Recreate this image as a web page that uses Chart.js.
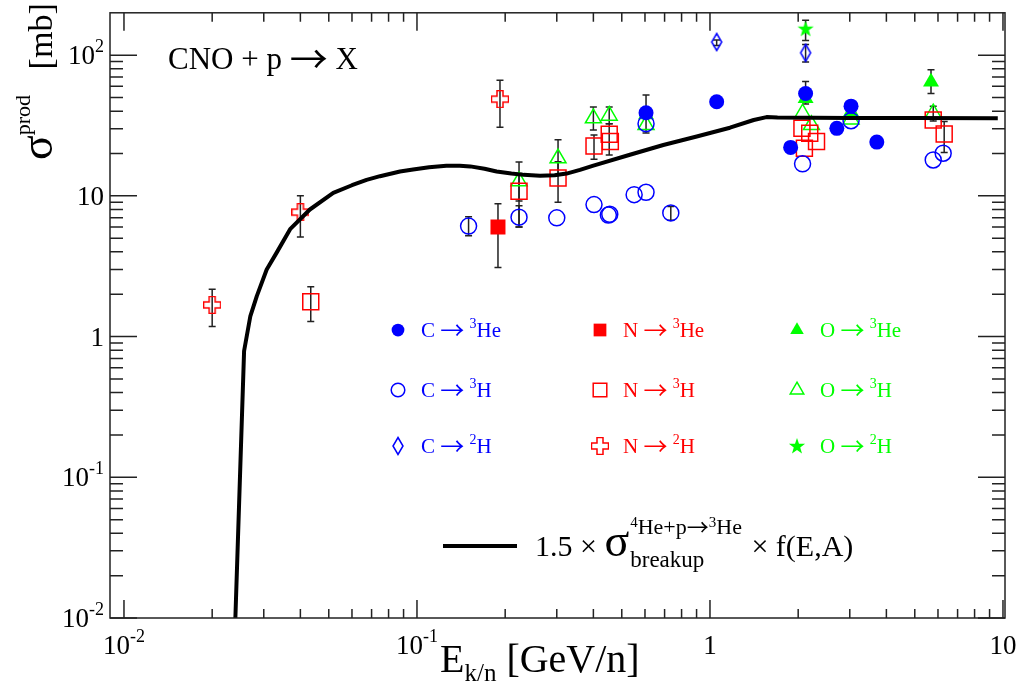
<!DOCTYPE html>
<html><head><meta charset="utf-8">
<script src="https://cdn.jsdelivr.net/npm/chart.js@4/dist/chart.umd.min.js"></script>
<style>html,body{margin:0;padding:0;background:#fff;overflow:hidden}canvas{display:block}</style>
</head><body>
<canvas id="c" width="1024" height="686"></canvas>
<script>
// ---------- data ----------
const curveE = [0.0240,0.0257,0.0270,0.0284,0.0307,0.0332,0.0369,0.0431,0.0518,0.0600,0.0673,0.0748,0.0875,0.097,0.110,0.126,0.140,0.152,0.170,0.187,0.210,0.231,0.263,0.295,0.324,0.36,0.40,0.533,0.693,0.901,1.17,1.41,1.56,1.70,3.0,5.0,9.6];
const curveSigma = [0.01,0.79,1.4,1.94,3.0,3.95,5.8,8.0,10.5,11.9,13.0,13.8,14.9,15.4,16.0,16.4,16.4,16.2,15.6,14.9,14.4,14.1,13.9,14.0,14.4,15.3,16.4,19.6,23.0,26.4,30.5,34.6,36.3,36.0,35.8,35.7,35.6];

const C3He_E  = [0.605,1.054,1.885,2.12,2.71,3.03,3.71];
const C3He_S  = [39.0,46.7,22.1,53.4,30.2,43.4,24.1];
const C3He_lo = [28,null,null,45,null,null,null];
const C3He_hi = [52,null,null,65,null,null,null];

const C3H_E  = [0.150,0.223,0.300,0.402,0.450,0.455,0.551,0.605,0.605,0.735,2.07,3.03,5.78,6.25];
const C3H_S  = [6.1,7.06,6.98,8.67,7.3,7.4,10.2,10.6,32.6,7.57,16.9,34.2,18.0,20.1];
const C3H_lo = [5.2,6.0,null,null,null,null,null,null,null,6.7,null,null,null,null];
const C3H_hi = [7.1,8.5,null,null,null,null,null,null,null,8.4,null,null,null,null];

const C2H_E  = [1.054,2.12];
const C2H_S  = [124,104];
const C2H_lo = [117,89.5];
const C2H_hi = [128,119];

const N3He_E  = [0.189];
const N3He_S  = [6.0];
const N3He_lo = [3.1];
const N3He_hi = [8.8];

const N3H_E  = [0.0434,0.223,0.303,0.402,0.453,0.457,2.06,2.10,2.19,2.31,5.78,6.3];
const N3H_S  = [1.77,10.8,13.4,22.6,27.4,24.3,30.2,21.8,27.9,24.3,34.6,27.5];
const N3H_lo = [1.28,6.0,9.0,18.2,19.5,null,null,null,null,null,null,20.3];
const N3H_hi = [2.26,14.5,17.5,27.1,32.6,null,null,null,null,null,null,33.8];

const N2H_E  = [0.02,0.04,0.192];
const N2H_S  = [1.68,7.66,48.7];
const N2H_lo = [1.18,5.1,30.7];
const N2H_hi = [2.17,10.0,66.3];

const O3He_E  = [0.605,2.12,3.03,5.68];
const O3He_S  = [37.8,49.3,39.7,64.6];
const O3He_lo = [null,null,null,53.3];
const O3He_hi = [null,null,null,78.9];

const O3H_E  = [0.223,0.303,0.40,0.453,0.605,2.07,2.22,3.03,5.78];
const O3H_S  = [12.7,18.5,35.6,37.2,31.9,38.6,31.9,35.0,38.6];
const O3H_lo = [9.2,14.0,29.4,32.6,null,null,null,null,34.0];
const O3H_hi = [17.4,25.0,42.9,42.9,null,null,null,null,43.3];

const O2H_E  = [2.12];
const O2H_S  = [154];
const O2H_lo = [127];
const O2H_hi = [177];

const xDecades = [-2,-1,0,1];
const xTickLabels = [['10','-2'],['10','-1'],['1',''],['10','']];
const yDecades = [-2,-1,0,1,2];
const yTickLabels = [['10','-2'],['10','-1'],['1',''],['10',''],['10','2']];

// ---------- styles ----------
const BLUE='#0000ff', RED='#ff0000', GREENT='#00ff00';
const SERIF='"Liberation Serif","DejaVu Serif",serif';
const ARW='"Noto Sans CJK SC","Liberation Sans",sans-serif';

function mk(w,h,fn){const c=document.createElement('canvas');c.width=w;c.height=h;const g=c.getContext('2d');fn(g);return c;}
const crossImg = mk(18,18,g=>{g.strokeStyle=RED;g.lineWidth=1.5;const a=3,b=8.5,c0=9;g.beginPath();
  g.moveTo(c0-a,c0-b);g.lineTo(c0+a,c0-b);g.lineTo(c0+a,c0-a);g.lineTo(c0+b,c0-a);g.lineTo(c0+b,c0+a);g.lineTo(c0+a,c0+a);
  g.lineTo(c0+a,c0+b);g.lineTo(c0-a,c0+b);g.lineTo(c0-a,c0+a);g.lineTo(c0-b,c0+a);g.lineTo(c0-b,c0-a);g.lineTo(c0-a,c0-a);g.closePath();g.stroke();});
const diamondImg = mk(14,20,g=>{g.strokeStyle=BLUE;g.lineWidth=1.5;g.beginPath();g.moveTo(7,1.5);g.lineTo(12,10);g.lineTo(7,18.5);g.lineTo(2,10);g.closePath();g.stroke();});
const starImg = mk(18,18,g=>{g.fillStyle=GREENT;g.beginPath();for(let i=0;i<10;i++){const r=i%2?3.4:8.5;const a=-Math.PI/2+i*Math.PI/5;const x=9+r*Math.cos(a),y=9.5+r*Math.sin(a);i?g.lineTo(x,y):g.moveTo(x,y);}g.closePath();g.fill();});

function pts(E,S){return E.map((e,i)=>({x:e,y:S[i]}));}
function ds(label,E,S,lo,hi,style){return Object.assign({label,data:pts(E,S),errLo:lo,errHi:hi,showLine:false},style);}

const sFilledCircle={pointStyle:'circle',pointRadius:7.5,backgroundColor:BLUE,borderColor:BLUE,borderWidth:0};
const sOpenCircle={pointStyle:'circle',pointRadius:8,backgroundColor:'rgba(0,0,0,0)',borderColor:BLUE,borderWidth:1.5};
const sDiamond={pointStyle:diamondImg,pointRadius:8};
const sFilledSquare={pointStyle:'rect',pointRadius:10.6,backgroundColor:RED,borderColor:RED,borderWidth:0};
const sOpenSquare={pointStyle:'rect',pointRadius:11.3,backgroundColor:'rgba(0,0,0,0)',borderColor:RED,borderWidth:1.5};
const sCross={pointStyle:crossImg,pointRadius:8};
const sFilledTri={pointStyle:'triangle',pointRadius:9.2,backgroundColor:GREENT,borderColor:GREENT,borderWidth:0};
const sOpenTri={pointStyle:'triangle',pointRadius:9.2,backgroundColor:'rgba(0,0,0,0)',borderColor:GREENT,borderWidth:1.5};
const sStar={pointStyle:starImg,pointRadius:8};

// ---------- rich text ----------
function rich(ctx,x,y,parts,align){
  let w=0;
  for(const p of parts){ctx.font=p[1]+'px '+(p[3]||SERIF);w+=ctx.measureText(p[0]).width;}
  let cx = align==='right'? x-w : align==='center'? x-w/2 : x;
  ctx.textAlign='left';ctx.textBaseline='alphabetic';
  for(const p of parts){ctx.font=p[1]+'px '+(p[3]||SERIF);ctx.fillText(p[0],cx,y+(p[2]||0));cx+=ctx.measureText(p[0]).width;}
  return cx;
}

// ---------- plugins ----------
const errorBars={id:'errorBars',beforeDatasetsDraw(chart){
  const ctx=chart.ctx, ys=chart.scales.y, xs=chart.scales.x;
  ctx.save();ctx.strokeStyle='#222';ctx.lineWidth=1.5;
  chart.data.datasets.forEach(d=>{ if(!d.errLo) return;
    d.data.forEach((p,i)=>{const lo=d.errLo[i],hi=d.errHi[i]; if(lo==null) return;
      const px=xs.getPixelForValue(p.x), y1=ys.getPixelForValue(lo), y2=ys.getPixelForValue(hi);
      ctx.beginPath();ctx.moveTo(px,y1);ctx.lineTo(px,y2);
      ctx.moveTo(px-3.5,y1);ctx.lineTo(px+3.5,y1);ctx.moveTo(px-3.5,y2);ctx.lineTo(px+3.5,y2);ctx.stroke();});
  });ctx.restore();}};

const frame={id:'frame',afterDraw(chart){
  const ctx=chart.ctx, a=chart.chartArea, xs=chart.scales.x, ys=chart.scales.y;
  ctx.save();
  ctx.strokeStyle='#222';ctx.lineWidth=1.5;
  ctx.strokeRect(a.left,a.top,a.right-a.left,a.bottom-a.top);
  ctx.beginPath();
  for(const d of xDecades){for(let m=1;m<10;m++){const v=m*Math.pow(10,d); if(v<xs.min||v>xs.max) continue;
    const px=xs.getPixelForValue(v); const L=m===1?18:9;
    ctx.moveTo(px,a.bottom);ctx.lineTo(px,a.bottom-L);ctx.moveTo(px,a.top);ctx.lineTo(px,a.top+L);}}
  for(const d of yDecades){for(let m=1;m<10;m++){const v=m*Math.pow(10,d); if(v<ys.min||v>=ys.max*0.999) continue;
    const py=ys.getPixelForValue(v); const L=m===1?27:13;
    ctx.moveTo(a.left,py);ctx.lineTo(a.left+L,py);ctx.moveTo(a.right,py);ctx.lineTo(a.right-L,py);}}
  ctx.stroke();
  ctx.fillStyle='#000';
  xDecades.forEach((d,i)=>{const px=xs.getPixelForValue(Math.pow(10,d));const l=xTickLabels[i];
    rich(ctx,px,654,l[1]?[[l[0],27,0],[l[1],18,-12]]:[[l[0],27,0]],'center');});
  yDecades.forEach((d,i)=>{const py=ys.getPixelForValue(Math.pow(10,d));const l=yTickLabels[i];
    rich(ctx,104,py+9,l[1]?[[l[0],27,0],[l[1],18,-12]]:[[l[0],27,0]],'right');});
  rich(ctx,440,672,[['E',40,0],['k/n',25,9],[' [GeV/n]',40,0]],'left');
  ctx.save();ctx.translate(52,160);ctx.rotate(-Math.PI/2);
  rich(ctx,0,0,[['σ',46,0],['prod',22,-22],['   [mb]',34,0]],'left');
  ctx.restore();
  rich(ctx,168,69,[['CNO + p ',31,0],['→',38,4,ARW],[' X',31,0]],'left');
  const H=Chart.helpers;
  const leg=[
    [398,330,sFilledCircle,BLUE,'C','3He'],[600,330,sFilledSquare,RED,'N','3He'],[797,330,sFilledTri,GREENT,'O','3He'],
    [398,390,sOpenCircle,BLUE,'C','3H'],[600,390,sOpenSquare,RED,'N','3H'],[797,390,sOpenTri,GREENT,'O','3H'],
    [398,446,sDiamond,BLUE,'C','2H'],[600,446,sCross,RED,'N','2H'],[797,446,sStar,GREENT,'O','2H']];
  for(const [x,y,s,col,el,iso] of leg){
    ctx.fillStyle=s.backgroundColor||'rgba(0,0,0,0)';ctx.strokeStyle=s.borderColor||col;ctx.lineWidth=s.borderWidth||0;
    const r = (typeof s.pointStyle==='string')? s.pointRadius*0.85 : s.pointRadius;
    H.drawPoint(ctx,{pointStyle:s.pointStyle,radius:r,rotation:0,borderWidth:s.borderWidth||0},x,y);
    ctx.fillStyle=col;
    rich(ctx,x+23,y+7,[[el+' ',21,0],['→',24,2,ARW],[' ',21,0],[iso[0],14,-9],[iso.slice(1),21,0]],'left');
  }
  ctx.strokeStyle='#000';ctx.lineWidth=4;ctx.beginPath();ctx.moveTo(443,546);ctx.lineTo(517,546);ctx.stroke();
  ctx.fillStyle='#000';
  let cx=rich(ctx,535,556,[['1.5 × ',30,0],['σ',46,0]],'left');
  const e1=rich(ctx,cx+1,556,[['4',15,-29],['He+p',22,-22],['→',22,-21,ARW],['3',15,-29],['He',22,-22]],'left');
  const e2=rich(ctx,cx+1,556,[['breakup',23,11]],'left');
  rich(ctx,Math.max(e1,e2)+2,556,[[' × f(E,A)',30,0]],'left');
  ctx.restore();
}};

new Chart(document.getElementById('c'),{
  type:'scatter',
  data:{datasets:[
    {label:'curve',data:pts(curveE,curveSigma),showLine:true,pointRadius:0,borderColor:'#000',borderWidth:4,tension:0,fill:false,borderJoinStyle:'round'},
    ds('C → 3He',C3He_E,C3He_S,C3He_lo,C3He_hi,sFilledCircle),
    ds('C → 3H',C3H_E,C3H_S,C3H_lo,C3H_hi,sOpenCircle),
    ds('C → 2H',C2H_E,C2H_S,C2H_lo,C2H_hi,sDiamond),
    ds('N → 3He',N3He_E,N3He_S,N3He_lo,N3He_hi,sFilledSquare),
    ds('N → 3H',N3H_E,N3H_S,N3H_lo,N3H_hi,sOpenSquare),
    ds('N → 2H',N2H_E,N2H_S,N2H_lo,N2H_hi,sCross),
    ds('O → 3He',O3He_E,O3He_S,O3He_lo,O3He_hi,sFilledTri),
    ds('O → 3H',O3H_E,O3H_S,O3H_lo,O3H_hi,sOpenTri),
    ds('O → 2H',O2H_E,O2H_S,O2H_lo,O2H_hi,sStar)
  ]},
  options:{responsive:false,animation:false,events:[],
    layout:{padding:{left:110,right:19,top:9,bottom:68}},
    plugins:{legend:{display:false},tooltip:{enabled:false}},
    scales:{
      x:{type:'logarithmic',min:0.00896,max:10.16,display:false},
      y:{type:'logarithmic',min:0.01,max:200,display:false}
    }},
  plugins:[errorBars,frame]
});
</script>
</body></html>
